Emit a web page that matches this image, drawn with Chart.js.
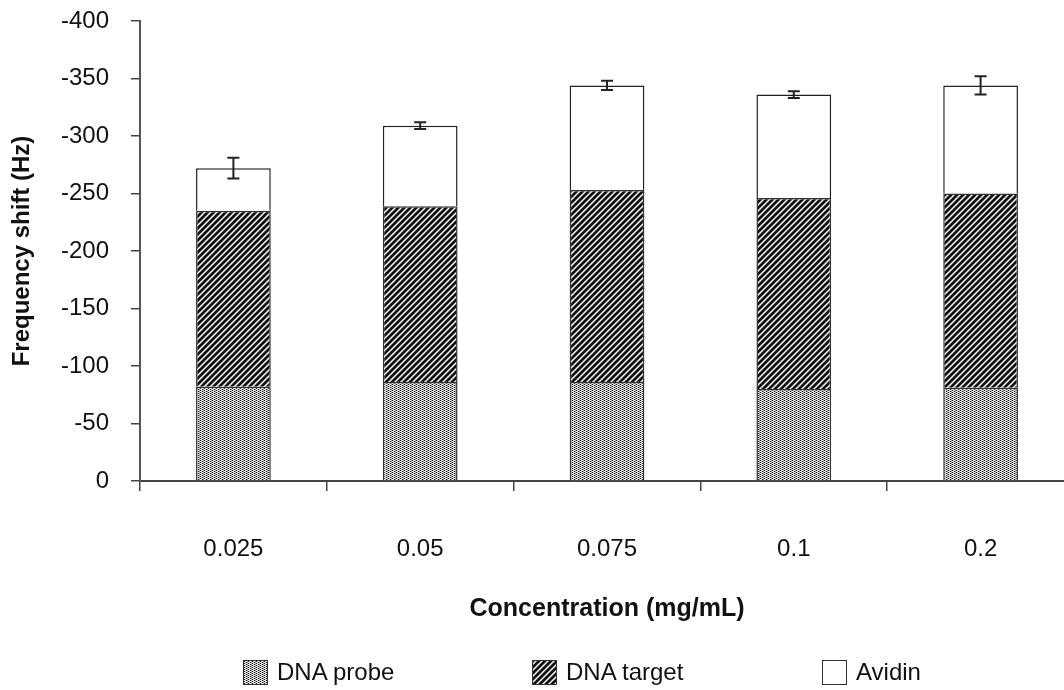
<!DOCTYPE html>
<html>
<head>
<meta charset="utf-8">
<script src="https://cdn.jsdelivr.net/npm/chart.js"></script>
<style>
  html, body { margin: 0; padding: 0; background: #fff; overflow: hidden; }
  #wrap { position: relative; width: 1064px; height: 690px; overflow: hidden; }
  #chart { position: absolute; left: 0; top: 0; }
  .leg { position: absolute; top: 659px; height: 26px; font: 24px "Liberation Sans", Arial, sans-serif; color: #111; display: flex; align-items: center; }
  .leg canvas { border: 1px solid #333; margin-right: 9px; }
</style>
</head>
<body>
<div id="wrap">
  <canvas id="chart" width="1074" height="690"></canvas>
  <div class="leg" style="left:243px"><canvas id="sw0" width="23" height="23"></canvas>DNA probe</div>
  <div class="leg" style="left:532px"><canvas id="sw1" width="23" height="23"></canvas>DNA target</div>
  <div class="leg" style="left:822px"><canvas id="sw2" width="23" height="23"></canvas>Avidin</div>
</div>
<script>
const categories = ['0.025', '0.05', '0.075', '0.1', '0.2'];
const probe = [82, 86, 86, 80, 81];
const target = [153, 153, 167, 166, 169];
const avidin = [37, 70, 91, 90, 94];
const errors = [9, 3, 4, 3, 8];
const yTicks = [0, 50, 100, 150, 200, 250, 300, 350, 400];

function dotPattern(ctx) {
    const c = document.createElement('canvas');
    c.width = 4; c.height = 4;
    const g = c.getContext('2d');
    g.fillStyle = '#fff';
    g.fillRect(0, 0, 4, 4);
    g.fillStyle = '#d0d0d0';
    g.fillRect(1, 0, 1, 4);
    g.fillStyle = '#a8a8a8';
    g.fillRect(3, 0, 1, 4);
    g.fillStyle = '#111';
    g.fillRect(0, 0, 1, 1);
    g.fillRect(0, 2, 1, 1);
    g.fillRect(2, 1, 1, 1);
    g.fillRect(2, 3, 1, 1);
    return ctx.createPattern(c, 'repeat');
}

function stripePattern(ctx) {
    const c = document.createElement('canvas');
    c.width = 6; c.height = 6;
    const g = c.getContext('2d');
    g.fillStyle = '#fff';
    g.fillRect(0, 0, 6, 6);
    g.strokeStyle = '#111';
    g.lineWidth = 2.8;
    g.beginPath();
    g.moveTo(-3, 9); g.lineTo(9, -3);
    g.moveTo(-3, 3); g.lineTo(3, -3);
    g.moveTo(3, 9); g.lineTo(9, 3);
    g.stroke();
    return ctx.createPattern(c, 'repeat');
}

const ctx = document.getElementById('chart').getContext('2d');
const probeFill = dotPattern(ctx);
const targetFill = stripePattern(ctx);

// legend swatches
[0, 1, 2].forEach(i => {
    const sc = document.getElementById('sw' + i).getContext('2d');
    sc.fillStyle = i === 0 ? dotPattern(sc) : i === 1 ? stripePattern(sc) : '#fff';
    sc.fillRect(0, 0, 23, 23);
});

// error bars on top of each stack
const errorBars = {
    id: 'errorBars',
    afterDatasetsDraw(chart) {
        const c = chart.ctx;
        const meta = chart.getDatasetMeta(2);
        const y = chart.scales.y;
        c.save();
        c.strokeStyle = '#222';
        c.lineWidth = 2;
        meta.data.forEach((bar, i) => {
            const total = probe[i] + target[i] + avidin[i];
            const yTop = y.getPixelForValue(total + errors[i]);
            const yBot = y.getPixelForValue(total - errors[i]);
            c.beginPath();
            c.moveTo(bar.x, yTop); c.lineTo(bar.x, yBot);
            c.moveTo(bar.x - 6, yTop); c.lineTo(bar.x + 6, yTop);
            c.moveTo(bar.x - 6, yBot); c.lineTo(bar.x + 6, yBot);
            c.stroke();
        });
        c.restore();
    }
};

const font = { family: '"Liberation Sans", Arial, sans-serif', size: 24 };

new Chart(ctx, {
    type: 'bar',
    data: {
        labels: categories,
        datasets: [
            { label: 'DNA probe', data: probe, backgroundColor: probeFill, borderColor: '#333', borderWidth: 1.5 },
            { label: 'DNA target', data: target, backgroundColor: targetFill, borderColor: '#333', borderWidth: 1.5 },
            { label: 'Avidin', data: avidin, backgroundColor: '#fff', borderColor: '#222', borderWidth: 1.5 }
        ]
    },
    options: {
        responsive: false,
        animation: false,
        layout: { padding: { top: 21, right: 0, left: 0, bottom: 66 } },
        datasets: { bar: { categoryPercentage: 1, barPercentage: 0.4 } },
        plugins: { legend: { display: false }, tooltip: { enabled: false } },
        scales: {
            x: {
                stacked: true,
                afterFit: (s) => { s.height = 143; s.paddingLeft = 0; s.paddingRight = 0; },
                grid: { display: true, drawOnChartArea: false, color: '#444', lineWidth: 1.5, tickLength: 10 },
                border: { color: '#444', width: 2 },
                ticks: { font: font, color: '#111', padding: 44 },
                title: { display: true, text: 'Concentration (mg/mL)', font: { ...font, size: 25, weight: 'bold' }, color: '#111', padding: 0 }
            },
            y: {
                stacked: true,
                min: 0,
                max: 400,
                afterBuildTicks: (s) => { s.ticks = yTicks.map(v => ({ value: v })); },
                afterFit: (s) => { s.width = 140; s.paddingTop = 0; s.paddingBottom = 0; },
                grid: { display: true, drawOnChartArea: false, color: '#444', lineWidth: 1.5, tickLength: 9 },
                border: { color: '#555', width: 2 },
                ticks: { font: font, color: '#111', padding: 22, callback: v => v === 0 ? '0' : '-' + v },
                title: { display: true, text: 'Frequency shift (Hz)', font: { ...font, weight: 'bold' }, color: '#111', padding: { top: 8, bottom: 0 } }
            }
        }
    },
    plugins: [errorBars]
});
</script>
</body>
</html>
